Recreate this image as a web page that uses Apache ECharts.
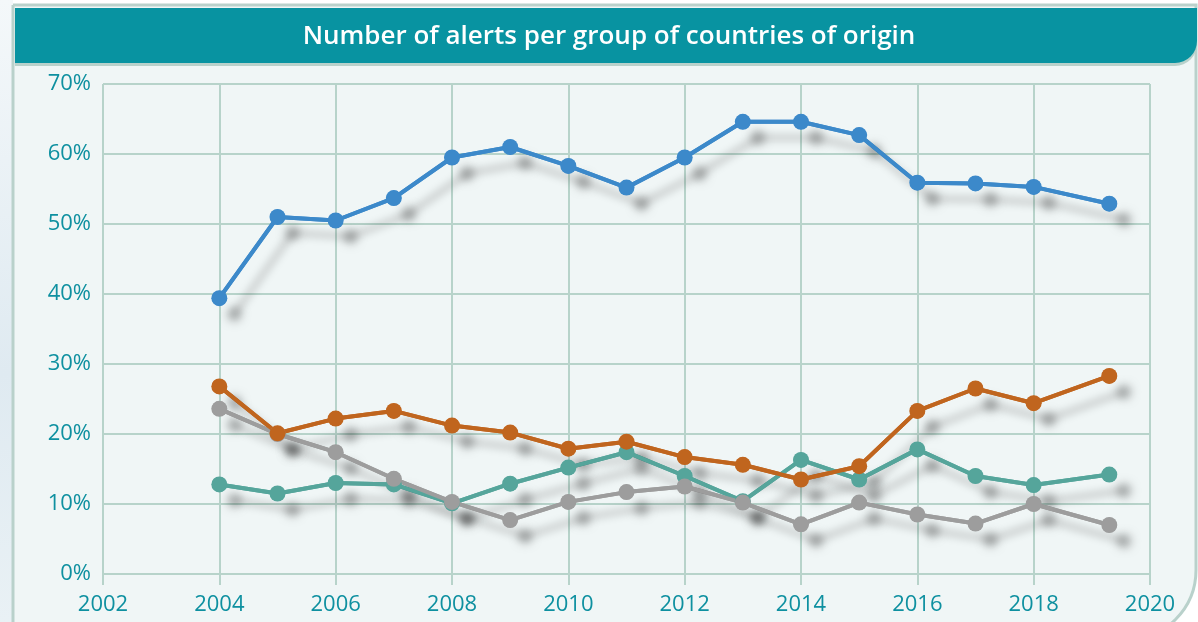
<!DOCTYPE html>
<html>
<head>
<meta charset="utf-8">
<script src="https://cdn.jsdelivr.net/npm/echarts@6/dist/echarts.min.js"></script>
<style>
html, body { margin: 0; padding: 0; background: #ffffff; }
#alertsChart { width: 1198px; height: 622px; }
</style>
</head>
<body>
<div id="alertsChart"></div>
<script>
// years (last point sits a bit past 2019 in the original)
const years = [2004, 2005, 2006, 2007, 2008, 2009, 2010, 2011, 2012, 2013, 2014, 2015, 2016, 2017, 2018, 2019.3]
const blueVals = [39.4, 51.0, 50.5, 53.7, 59.5, 61.0, 58.3, 55.2, 59.5, 64.6, 64.6, 62.7, 55.9, 55.8, 55.3, 52.9]
const orangeVals = [26.8, 20.1, 22.2, 23.3, 21.2, 20.2, 17.9, 18.9, 16.7, 15.6, 13.5, 15.4, 23.3, 26.5, 24.4, 28.3]
const tealVals = [12.8, 11.5, 13.0, 12.8, 10.1, 12.9, 15.2, 17.4, 14.0, 10.4, 16.3, 13.5, 17.8, 14.0, 12.7, 14.2]
const greyVals = [23.6, 20.0, 17.4, 13.6, 10.3, 7.7, 10.3, 11.7, 12.5, 10.2, 7.1, 10.2, 8.5, 7.2, 10.0, 7.0]
const yTicks = [0, 10, 20, 30, 40, 50, 60, 70]
const xTicks = [2002, 2004, 2006, 2008, 2010, 2012, 2014, 2016, 2018, 2020]

const gridColor = '#b7d3ca'
const labelColor = '#0e90a0'

function pairs (vals) {
  return years.map((y, i) => [y, vals[i]])
}

// shadow layer first, real lines on top so shadows stay underneath everything
function shadowSeries (vals, color) {
  const shadow = {
    shadowColor: 'rgba(0,0,0,0.26)',
    shadowBlur: 8,
    shadowOffsetX: 15,
    shadowOffsetY: 16
  }
  return {
    type: 'line',
    silent: true,
    z: 1,
    data: pairs(vals),
    symbol: 'circle',
    symbolSize: 15,
    lineStyle: Object.assign({ color: color, width: 4 }, shadow),
    itemStyle: Object.assign({ color: color }, shadow)
  }
}

function mainSeries (name, vals, color) {
  return {
    name: name,
    type: 'line',
    z: 3,
    data: pairs(vals),
    symbol: 'circle',
    symbolSize: 16,
    lineStyle: { color: color, width: 4 },
    itemStyle: { color: color }
  }
}

const chartDom = document.getElementById('alertsChart')
const myChart = echarts.init(chartDom)
const option = {
  backgroundColor: '#ffffff',
  animation: false,
  graphic: [
    {
      type: 'rect',
      z: -10,
      shape: { x: 0, y: 0, width: 13, height: 622 },
      style: {
        fill: new echarts.graphic.LinearGradient(0, 0, 0, 1, [
          { offset: 0, color: '#f4f8fa' },
          { offset: 0.6, color: '#dfeaf1' },
          { offset: 1, color: '#e9f1f5' }
        ])
      }
    },
    {
      type: 'rect',
      z: -9,
      shape: { x: 13, y: 5, width: 1183, height: 635, r: [0, 0, 70, 0] },
      style: { fill: '#f0f6f6', stroke: '#b9d1cb', lineWidth: 3 }
    },
    {
      type: 'rect',
      z: -8,
      shape: { x: 15, y: 8, width: 1182, height: 58, r: [0, 0, 22, 0] },
      style: { fill: '#b9d1cb' }
    },
    {
      type: 'rect',
      z: -7,
      shape: { x: 15, y: 8, width: 1182, height: 55, r: [0, 0, 22, 0] },
      style: { fill: '#0893a1' }
    },
    {
      type: 'text',
      z: 10,
      x: 609,
      y: 37,
      style: {
        text: 'Number of alerts per group of countries of origin',
        fill: '#ffffff',
        font: '600 26px "Open Sans", sans-serif',
        textAlign: 'center',
        textVerticalAlign: 'middle'
      }
    }
  ],
  grid: {
    left: 103,
    right: 48,
    top: 84,
    bottom: 48
  },
  xAxis: {
    type: 'value',
    min: xTicks[0],
    max: xTicks[xTicks.length - 1],
    interval: 2,
    axisLine: { show: true, lineStyle: { color: gridColor, width: 2 } },
    axisTick: { show: true, length: 11, lineStyle: { color: gridColor, width: 2 } },
    splitLine: { show: true, lineStyle: { color: gridColor, width: 2 } },
    axisLabel: {
      color: labelColor,
      fontSize: 22,
      fontFamily: 'Open Sans',
      margin: 20,
      formatter: (v) => String(v)
    }
  },
  yAxis: {
    type: 'value',
    min: yTicks[0],
    max: yTicks[yTicks.length - 1],
    interval: 10,
    axisLine: { show: false },
    axisTick: { show: false },
    splitLine: { show: true, lineStyle: { color: gridColor, width: 2 } },
    axisLabel: {
      color: labelColor,
      fontSize: 22,
      fontFamily: 'Open Sans',
      margin: 12,
      formatter: (v) => v + '%'
    }
  },
  series: [
    shadowSeries(tealVals, '#55a59b'),
    shadowSeries(greyVals, '#9d9d9d'),
    shadowSeries(orangeVals, '#c0651e'),
    shadowSeries(blueVals, '#3c89ca'),
    mainSeries('teal', tealVals, '#55a59b'),
    mainSeries('grey', greyVals, '#9d9d9d'),
    mainSeries('orange', orangeVals, '#c0651e'),
    mainSeries('blue', blueVals, '#3c89ca')
  ]
}
myChart.setOption(option)
</script>
</body>
</html>
